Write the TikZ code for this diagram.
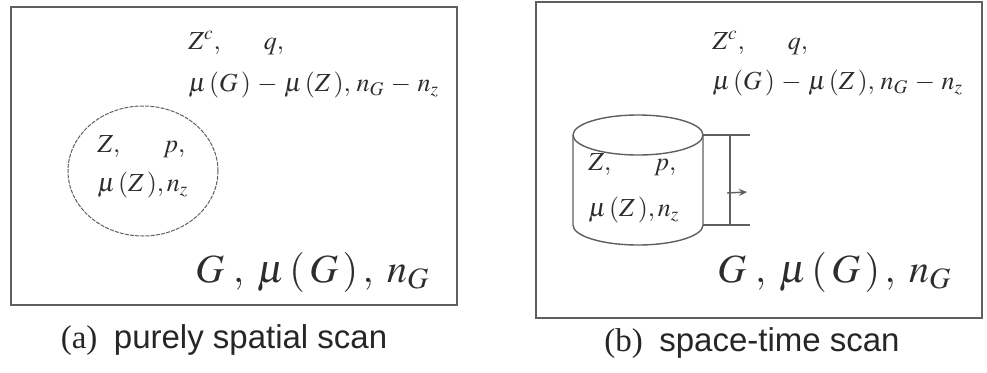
\documentclass[tikz,border=0pt]{standalone}
\usepackage{mathptmx}
\usepackage{fontspec}
\setmainfont{Liberation Serif}
\newfontfamily\capsans{Liberation Sans}
\usetikzlibrary{arrows.meta,shapes.geometric}
\definecolor{lineg}{RGB}{95,95,95}
\definecolor{textg}{RGB}{45,45,45}

\begin{document}
\begin{tikzpicture}[x=0.5pt,y=0.5pt,
    panel/.style={draw=lineg,line width=0.7pt},
    zone/.style={draw=lineg,ellipse,line width=0.5pt,dash pattern=on 2pt off 0.6pt,minimum width=75pt,minimum height=65pt},
    smallmath/.style={text=textg,font=\fontsize{13}{16}\selectfont,anchor=west,inner sep=0pt},
    bigmath/.style={text=textg,font=\fontsize{20}{24}\selectfont,anchor=west,inner sep=0pt},
    caption/.style={text=black!85,font=\fontsize{16.5}{19}\selectfont,inner sep=0pt}]
    \useasboundingbox (0,0) rectangle (987,372);
    % (a) purely spatial scan
    \draw[panel] (11,67) rectangle (457,365);
    \node[smallmath] (ac1) at (188,329) {$Z^{c},\hspace{20pt}q,$};
    \node[smallmath] (ac2) at (188,287) {$\mu\,(G\,)\,-\,\mu\,(Z\,),\,n_{G}\,-\,n_{z}$};
    \node[zone] (zone) at (143,201) {};
    \node[smallmath] (az1) at (97,225) {$Z,\hspace{20pt}p,$};
    \node[smallmath] (az2) at (97,187) {$\mu\,(Z\,),n_{z}$};
    \node[bigmath] (ag) at (195,100) {$G\;,\;\mu\,(\,G\,)\,,\;n_{G}$};
    \node[caption] (capa) at (224,32) {\rmfamily(a)\ \ \capsans purely spatial scan};
    % (b) space-time scan
    \draw[panel] (536,54) rectangle (982,370);
    \node[smallmath] (bc1) at (712,329) {$Z^{c},\hspace{20pt}q,$};
    \node[smallmath] (bc2) at (712,289) {$\mu\,(G\,)\,-\,\mu\,(Z\,),\,n_{G}\,-\,n_{z}$};
    \draw[panel] (638,237) ellipse [x radius=32.5pt,y radius=10pt];
    \draw[panel] (573,237) -- (573,147) arc[start angle=180,end angle=360,x radius=32.5pt,y radius=10pt] -- (703,237);
    \node[smallmath] (bz1) at (588,207) {$Z,\hspace{20pt}p,$};
    \node[smallmath] (bz2) at (588,162) {$\mu\,(Z\,),n_{z}$};
    \coordinate (ttop) at (703,237);
    \coordinate (tbot) at (703,147);
    \coordinate (etop) at (750,237);
    \coordinate (ebot) at (750,147);
    \coordinate (vtop) at (730,237);
    \coordinate (vbot) at (730,147);
    \foreach \a/\b in {ttop/etop,tbot/ebot,vtop/vbot}{\draw[panel] (\a)--(\b);}
    \coordinate (tick) at (727,179);
    \coordinate (tickend) at (747,180);
    \draw[panel,-{Stealth[length=4pt,width=3.5pt]}] (tick)--(tickend);
    \node[bigmath] (bg) at (717,100) {$G\;,\;\mu\,(\,G\,)\,,\;n_{G}$};
    \node[caption] (capb) at (752,29) {\rmfamily(b)\ \ \capsans space-time scan};
\end{tikzpicture}
\end{document}
